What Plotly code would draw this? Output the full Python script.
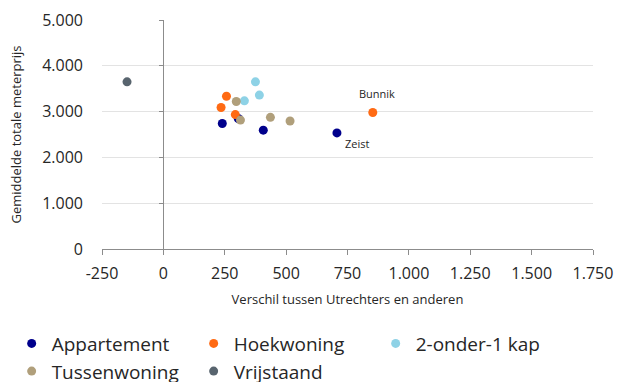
import plotly.graph_objects as go

# Verschil tussen Utrechters en anderen (x) vs gemiddelde totale meterprijs (y)
series_names = ["Appartement", "Hoekwoning", "2-onder-1 kap", "Tussenwoning", "Vrijstaand"]
series_colors = ["#00008C", "#FF6A13", "#8ED2E6", "#B09F7B", "#58646E"]

appartement_x = [240, 305, 407, 707]
appartement_y = [2740, 2850, 2595, 2535]
hoekwoning_x = [257, 235, 293, 853]
hoekwoning_y = [3335, 3090, 2935, 2980]
twee_onder_een_kap_x = [375, 391, 330]
twee_onder_een_kap_y = [3650, 3360, 3235]
tussenwoning_x = [297, 314, 436, 516]
tussenwoning_y = [3220, 2815, 2875, 2795]
vrijstaand_x = [-148]
vrijstaand_y = [3650]

x_tickvals = [-250, 0, 250, 500, 750, 1000, 1250, 1500, 1750]
x_ticktext = ["-250", "0", "250", "500", "750", "1.000", "1.250", "1.500", "1.750"]
y_tickvals = [0, 1000, 2000, 3000, 4000, 5000]
y_ticktext = ["0", "1.000", "2.000", "3.000", "4.000", "5.000"]

annotations_text = ["Bunnik", "Zeist"]
annotations_x = [853, 707]
annotations_y = [2980, 2535]

xs = [appartement_x, hoekwoning_x, twee_onder_een_kap_x, tussenwoning_x, vrijstaand_x]
ys = [appartement_y, hoekwoning_y, twee_onder_een_kap_y, tussenwoning_y, vrijstaand_y]

fig = go.Figure()
for name, color, x, y in zip(series_names, series_colors, xs, ys):
    fig.add_trace(go.Scatter(
        x=x, y=y, mode="markers", name=name,
        marker=dict(color=color, size=9, line=dict(width=0)),
    ))

# vertical axis line drawn at x = 0, with its own tick marks
fig.add_trace(go.Scatter(x=[None], y=[None], yaxis="y2", showlegend=False, hoverinfo="skip"))

axis_grey = "#8C8C8C"
text_grey = "#262626"

fig.update_layout(
    width=618, height=382,
    margin=dict(l=102, r=25, t=20, b=133, autoexpand=False),
    paper_bgcolor="white", plot_bgcolor="white",
    font=dict(family="Open Sans", color=text_grey),
    separators=",.",
    xaxis=dict(
        range=[-250, 1750], tickvals=x_tickvals, ticktext=x_ticktext,
        showgrid=False, zeroline=False,
        showline=True, linecolor=axis_grey, linewidth=1,
        ticks="outside", ticklen=5, tickcolor=axis_grey,
        ticklabelstandoff=5,
        tickfont=dict(size=16, color=text_grey),
        title=dict(text="Verschil tussen Utrechters en anderen", font=dict(size=13, color=text_grey), standoff=11),
    ),
    yaxis=dict(
        range=[0, 5000], tickvals=y_tickvals, ticktext=y_ticktext,
        showgrid=True, gridcolor="#E3E3E3", gridwidth=1,
        zeroline=False, showline=False, ticks="",
        ticklabelstandoff=18,
        tickfont=dict(size=16, color=text_grey),
        title=dict(text="Gemiddelde totale meterprijs", font=dict(size=13, color=text_grey), standoff=17),
    ),
    yaxis2=dict(
        range=[0, 5000], tickvals=y_tickvals, overlaying="y", anchor="free",
        position=0.125, side="left",
        showgrid=False, zeroline=False, showticklabels=False,
        showline=True, linecolor=axis_grey, linewidth=1,
        ticks="outside", ticklen=4, tickcolor=axis_grey,
    ),
    legend=dict(
        orientation="h", x=-0.184, xanchor="left", y=-0.33, yanchor="top",
        font=dict(size=19, color=text_grey),
        entrywidth=137, entrywidthmode="pixels",
        itemsizing="trace", tracegroupgap=0,
        bgcolor="rgba(0,0,0,0)",
    ),
    showlegend=True,
)

fig.add_annotation(x=annotations_x[0], y=annotations_y[0], text=annotations_text[0],
                   showarrow=False, yshift=19, xshift=4, font=dict(size=11, color=text_grey))
fig.add_annotation(x=annotations_x[1], y=annotations_y[1], text=annotations_text[1],
                   showarrow=False, yshift=-11, xshift=20, font=dict(size=11, color=text_grey))

fig.write_html("out.html")
